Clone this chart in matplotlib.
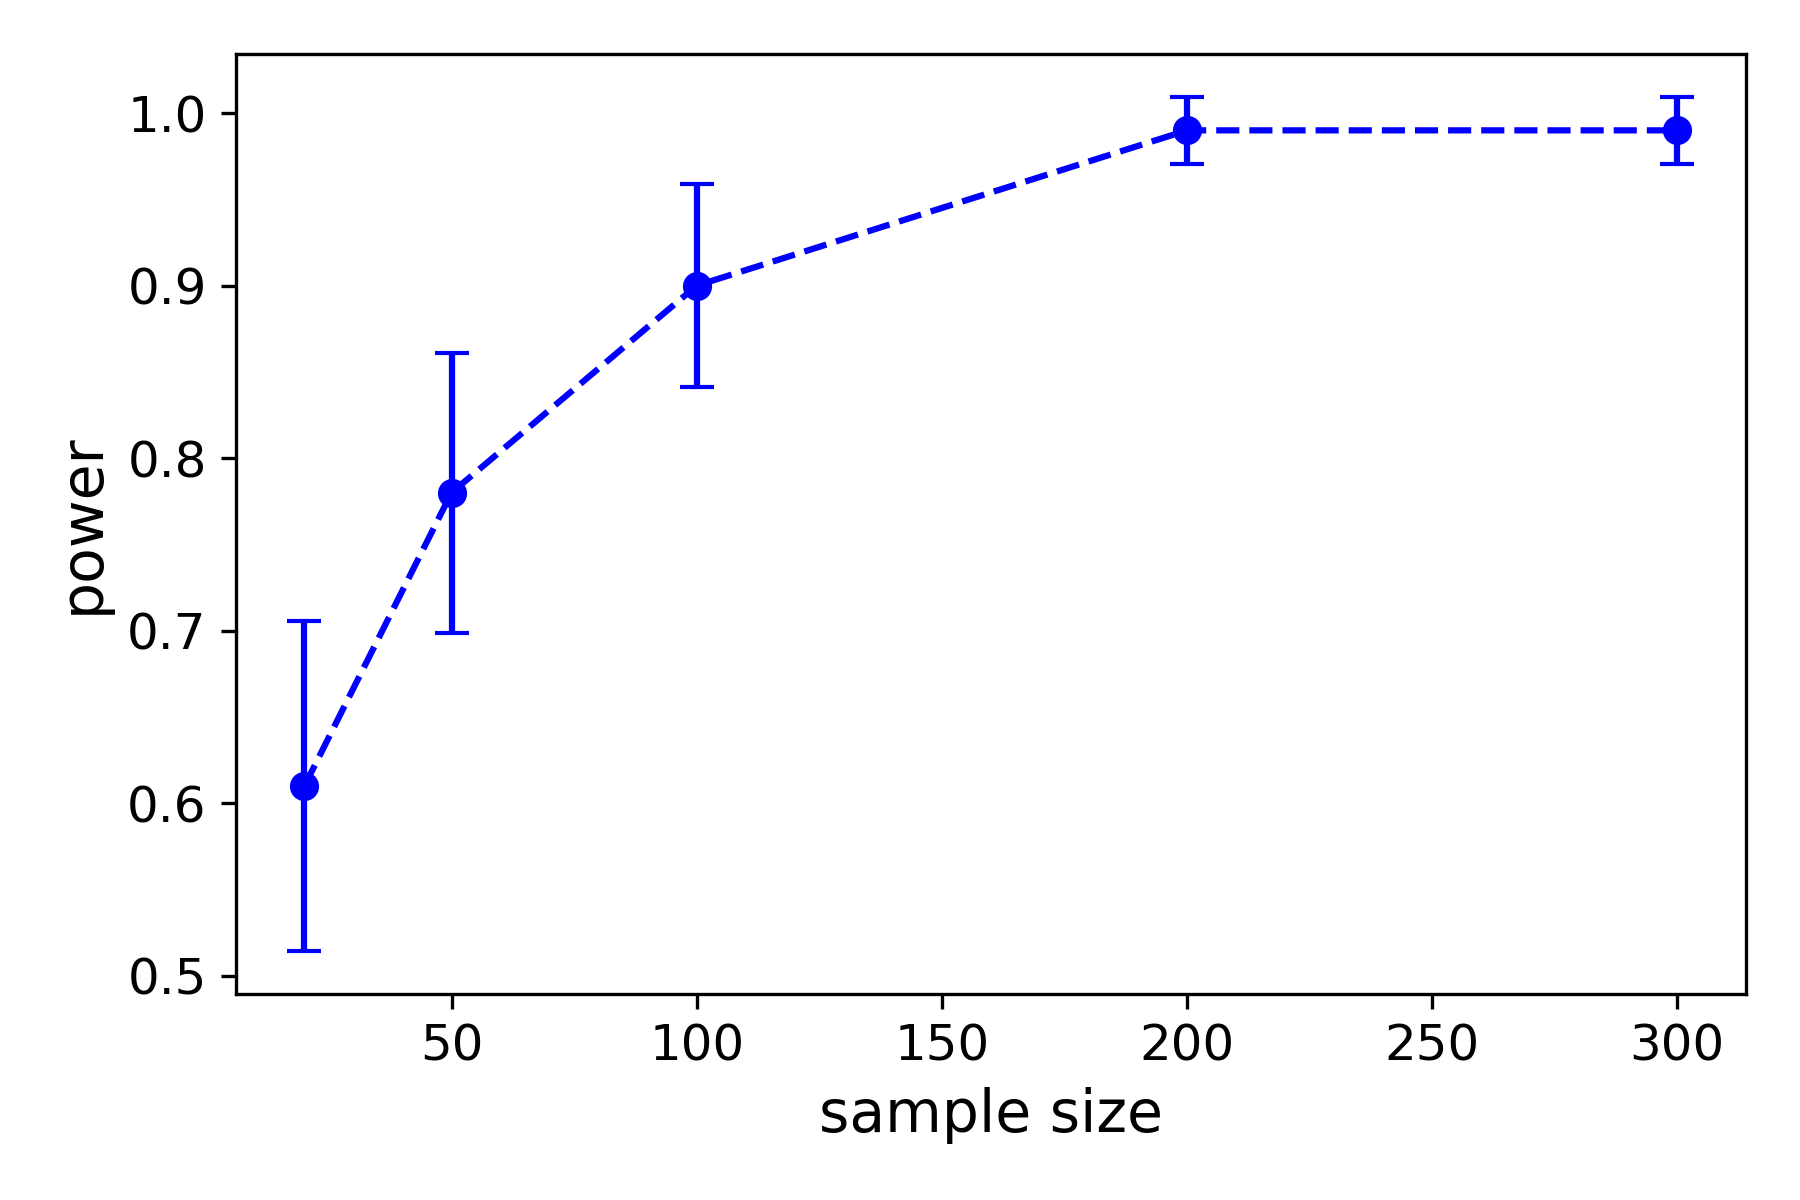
import matplotlib
matplotlib.use("Agg")
import matplotlib.pyplot as plt

sample_size = [20, 50, 100, 200, 300]
power = [0.61, 0.78, 0.90, 0.99, 0.99]
err = [0.0956, 0.0812, 0.0588, 0.0195, 0.0195]

def main():
    fig = plt.figure(figsize=(6, 4), dpi=300)
    ax = fig.add_subplot(111)
    ax.errorbar(sample_size, power, yerr=err, fmt='o--', color='blue', capsize=4)
    ax.set_xlabel('sample size', fontsize=14)
    ax.set_ylabel('power', fontsize=14)
    ax.tick_params(labelsize=12)
    fig.subplots_adjust(left=0.131, right=0.970, top=0.955, bottom=0.172)
    fig.savefig('out.png', dpi=300)

main()
